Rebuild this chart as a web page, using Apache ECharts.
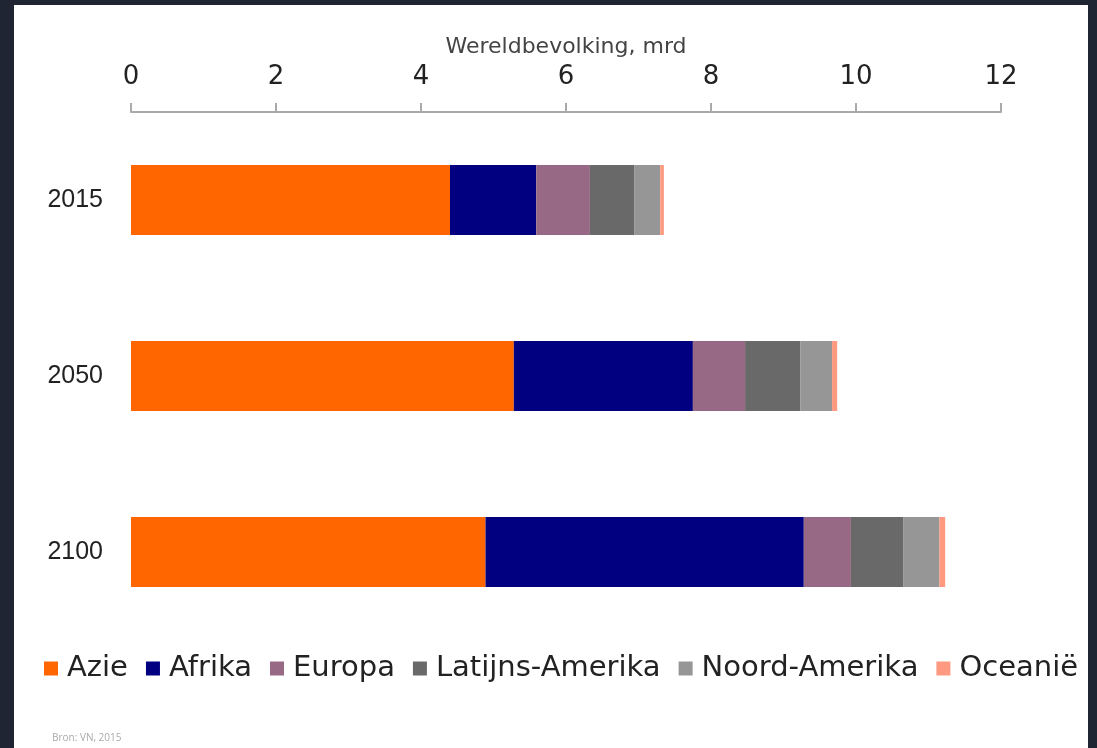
<!DOCTYPE html>
<html>
<head>
<meta charset="utf-8">
<script src="https://cdn.jsdelivr.net/npm/echarts@6/dist/echarts.min.js"></script>
<style>
  html, body { margin: 0; padding: 0; background: #1f2532; width: 1097px; height: 748px; overflow: hidden; }
  #panel { position: absolute; left: 14px; top: 5px; width: 1074px; height: 743px; background: #fff; }
  #chart { width: 100%; height: 100%; }
  #bron { position: absolute; left: 38px; top: 725px; font: 10px "Open Sans", sans-serif; color: #aaa; }
</style>
</head>
<body>
<div id="panel">
  <div id="chart"></div>
  <div id="bron">Bron: VN, 2015</div>
</div>
<script>
// jaren (categorieën)
const years = ['2015', '2050', '2100'];

// wereldbevolking per continent, miljard
const regions = ['Azie', 'Afrika', 'Europa', 'Latijns-Amerika', 'Noord-Amerika', 'Oceanië'];
const azie = [4.40, 5.28, 4.89];
const afrika = [1.19, 2.47, 4.39];
const europa = [0.74, 0.72, 0.65];
const latijnsAmerika = [0.61, 0.76, 0.72];
const noordAmerika = [0.36, 0.44, 0.50];
const oceanie = [0.05, 0.07, 0.08];

const colors = ['#ff6600', '#000080', '#986984', '#696969', '#969696', '#ff9980'];
const values = [azie, afrika, europa, latijnsAmerika, noordAmerika, oceanie];

const chart = echarts.init(document.getElementById('chart'));

chart.setOption({
  animation: false,
  color: colors,
  grid: { left: 117, right: 87, top: 107, bottom: 108 },
  legend: {
    left: 25,
    top: 644,
    itemWidth: 14,
    itemHeight: 14,
    itemGap: 18,
    icon: 'rect',
    textStyle: { fontFamily: 'DejaVu Sans', fontSize: 29, color: '#222', padding: [0, 0, 0, 4] },
    data: regions
  },
  xAxis: {
    type: 'value',
    position: 'top',
    min: 0,
    max: 12,
    interval: 2,
    name: 'Wereldbevolking, mrd',
    nameLocation: 'middle',
    nameGap: 54,
    nameTextStyle: { fontFamily: 'DejaVu Sans', fontSize: 22, color: '#444' },
    axisLine: { show: true, lineStyle: { color: '#aaa', width: 2 } },
    axisTick: { show: true, length: 9, lineStyle: { color: '#aaa', width: 2 } },
    axisLabel: { fontFamily: 'DejaVu Sans', fontSize: 26, color: '#222', margin: 22 },
    splitLine: { show: false }
  },
  yAxis: {
    type: 'category',
    inverse: true,
    data: years,
    axisLine: { show: false },
    axisTick: { show: false },
    axisLabel: { fontFamily: 'Liberation Sans', fontSize: 25, color: '#222', margin: 28 }
  },
  series: regions.map((name, i) => ({
    name: name,
    type: 'bar',
    stack: 'totaal',
    barWidth: 70,
    data: values[i]
  }))
});
</script>
</body>
</html>
